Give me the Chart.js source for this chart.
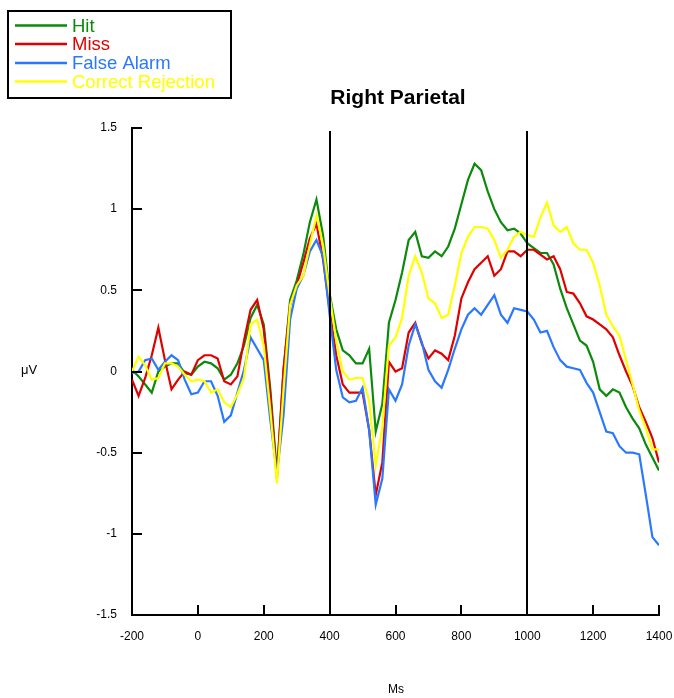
<!DOCTYPE html>
<html><head><meta charset="utf-8">
<script src="https://cdn.jsdelivr.net/npm/chart.js@4.4.1/dist/chart.umd.min.js"></script>
<style>html,body{margin:0;padding:0;background:#fff;}#wrap{width:674px;height:698px;}</style>
</head><body>
<div id="wrap"><canvas id="c" width="674" height="698"></canvas></div>
<script>
const timesMs = [-200,-180,-160,-140,-120,-100,-80,-60,-40,-20,0,20,40,60,80,100,120,140,160,180,200,220,240,260,280,300,320,340,360,380,400,420,440,460,480,500,520,540,560,580,600,620,640,660,680,700,720,740,760,780,800,820,840,860,880,900,920,940,960,980,1000,1020,1040,1060,1080,1100,1120,1140,1160,1180,1200,1220,1240,1260,1280,1300,1320,1340,1360,1380,1400];

const hit = [0.01,-0.03,-0.08,-0.13,0.0,0.03,0.05,0.05,-0.01,-0.02,0.03,0.06,0.05,0.02,-0.05,-0.02,0.05,0.16,0.33,0.41,0.29,-0.11,-0.63,0.01,0.44,0.56,0.72,0.92,1.06,0.84,0.48,0.26,0.13,0.10,0.05,0.05,0.14,-0.37,-0.20,0.30,0.44,0.61,0.81,0.86,0.71,0.70,0.74,0.71,0.77,0.88,1.03,1.18,1.28,1.24,1.11,1.00,0.92,0.87,0.88,0.85,0.79,0.76,0.73,0.73,0.66,0.51,0.39,0.29,0.19,0.16,0.06,-0.11,-0.15,-0.11,-0.13,-0.22,-0.29,-0.35,-0.45,-0.53,-0.61];

const miss = [-0.05,-0.15,-0.04,0.10,0.27,0.07,-0.11,-0.05,0.0,-0.02,0.07,0.10,0.10,0.08,-0.06,-0.08,-0.03,0.19,0.38,0.44,0.26,-0.14,-0.66,0.01,0.41,0.53,0.67,0.82,0.91,0.69,0.38,0.10,-0.08,-0.13,-0.13,-0.13,-0.36,-0.76,-0.56,0.06,0.0,0.02,0.24,0.30,0.17,0.08,0.13,0.11,0.07,0.22,0.45,0.55,0.63,0.67,0.71,0.59,0.63,0.74,0.74,0.71,0.75,0.75,0.72,0.69,0.71,0.63,0.49,0.48,0.42,0.34,0.32,0.29,0.26,0.21,0.10,0.0,-0.09,-0.22,-0.31,-0.41,-0.56];

const falseAlarm = [-0.01,0.0,0.07,0.08,0.01,0.06,0.10,0.07,-0.05,-0.14,-0.13,-0.06,-0.06,-0.15,-0.31,-0.27,-0.13,0.01,0.21,0.14,0.07,-0.30,-0.63,-0.27,0.32,0.51,0.59,0.74,0.81,0.71,0.35,0.01,-0.16,-0.19,-0.18,-0.10,-0.36,-0.82,-0.66,-0.11,-0.18,-0.08,0.16,0.29,0.18,0.01,-0.06,-0.10,0.01,0.14,0.26,0.35,0.39,0.35,0.41,0.47,0.35,0.30,0.39,0.38,0.37,0.32,0.24,0.25,0.15,0.07,0.03,0.02,0.01,-0.07,-0.13,-0.25,-0.37,-0.38,-0.46,-0.50,-0.50,-0.51,-0.76,-1.02,-1.07];

const correctRejection = [0.0,0.09,0.04,-0.05,-0.04,0.05,0.05,0.03,-0.02,-0.06,-0.05,-0.06,-0.13,-0.11,-0.19,-0.22,-0.14,-0.04,0.29,0.32,0.16,-0.24,-0.69,-0.11,0.41,0.53,0.59,0.78,0.96,0.78,0.47,0.19,0.0,-0.05,-0.04,-0.04,-0.18,-0.58,-0.34,0.16,0.21,0.33,0.59,0.71,0.61,0.45,0.42,0.33,0.35,0.53,0.73,0.83,0.89,0.89,0.88,0.81,0.70,0.75,0.83,0.86,0.84,0.83,0.95,1.04,0.90,0.86,0.89,0.79,0.75,0.75,0.67,0.53,0.35,0.28,0.22,0.07,-0.08,-0.24,-0.35,-0.48,-0.48];

const seriesNames = ["Hit","Miss","False Alarm","Correct Rejection"];
const seriesColors = ["#0b8a0b","#e00000","#2a78ff","#ffff00"];
const yTickValues = [-1.5,-1,-0.5,0,0.5,1,1.5];
const xTickValues = [-200,0,200,400,600,800,1000,1200,1400];
const markerLinesMs = [400,1000];
const titleText = "Right Parietal";
const yAxisTitle = "μV";
const xAxisTitle = "Ms";

const FONT = "'Liberation Sans', Arial, sans-serif";
const seriesData = [hit, miss, falseAlarm, correctRejection];

const decorPlugin = {
  id: 'decor',
  afterDatasetsDraw(chart) {
    const ctx = chart.ctx, xs = chart.scales.x, ys = chart.scales.y, a = chart.chartArea;
    ctx.save();
    ctx.strokeStyle = '#000'; ctx.lineWidth = 2;
    markerLinesMs.forEach(m => {
      const px = Math.round(xs.getPixelForValue(m));
      ctx.beginPath(); ctx.moveTo(px, a.top + 3); ctx.lineTo(px, a.bottom); ctx.stroke();
    });
    yTickValues.forEach(v => {
      const py = Math.round(ys.getPixelForValue(v));
      ctx.beginPath(); ctx.moveTo(a.left, py); ctx.lineTo(a.left + 10, py); ctx.stroke();
    });
    xTickValues.forEach(v => {
      const px = Math.round(xs.getPixelForValue(v));
      ctx.beginPath(); ctx.moveTo(px, a.bottom); ctx.lineTo(px, a.bottom - 10); ctx.stroke();
    });
    ctx.restore();
  },
  afterDraw(chart) {
    const ctx = chart.ctx, a = chart.chartArea;
    ctx.save();
    ctx.fillStyle = '#000';
    ctx.font = "bold 21px " + FONT;
    ctx.textAlign = 'center'; ctx.textBaseline = 'middle';
    ctx.fillText(titleText, 398, 98);
    ctx.font = "13px " + FONT;
    ctx.fillText(yAxisTitle, 29, 370);
    ctx.font = "12px " + FONT;
    ctx.fillText(xAxisTitle, 396, 690);
    ctx.strokeStyle = '#000'; ctx.lineWidth = 2;
    ctx.strokeRect(8, 11, 223, 87);
    const rows = [25.5, 44, 63, 81.5];
    ctx.font = "18.5px " + FONT;
    ctx.textAlign = 'left'; ctx.textBaseline = 'middle';
    seriesNames.forEach((n, i) => {
      ctx.strokeStyle = seriesColors[i]; ctx.lineWidth = 2.5;
      ctx.beginPath(); ctx.moveTo(15, rows[i]); ctx.lineTo(67, rows[i]); ctx.stroke();
      ctx.fillStyle = seriesColors[i];
      ctx.fillText(n, 72, rows[i] + 1);
    });
    ctx.restore();
  }
};

new Chart(document.getElementById('c'), {
  type: 'line',
  data: {
    datasets: seriesNames.map((n, i) => ({
      label: n,
      data: seriesData[i].map((v, j) => ({ x: timesMs[j], y: v })),
      borderColor: seriesColors[i],
      borderWidth: 2.2,
      pointRadius: 0,
      tension: 0,
      fill: false,
      order: 4 - i
    }))
  },
  options: {
    responsive: false,
    animation: false,
    events: [],
    layout: { padding: { left: 0, right: 15, top: 128, bottom: 0 } },
    plugins: { legend: { display: false }, title: { display: false }, tooltip: { enabled: false } },
    scales: {
      x: {
        type: 'linear', min: -200, max: 1400,
        afterBuildTicks: s => { s.ticks = xTickValues.map(v => ({ value: v })); },
        afterFit: s => { s.height = 83; s.paddingLeft = 0; s.paddingRight = 0; },
        grid: { display: false, drawTicks: false },
        border: { display: true, color: '#000', width: 2 },
        ticks: { color: '#000', font: { size: 12, family: FONT }, padding: 14, maxRotation: 0, autoSkip: false,
                 callback: v => String(v) }
      },
      y: {
        type: 'linear', min: -1.5, max: 1.5,
        afterBuildTicks: s => { s.ticks = yTickValues.map(v => ({ value: v })); },
        afterFit: s => { s.width = 132; s.paddingTop = 0; s.paddingBottom = 0; },
        grid: { display: false, drawTicks: false },
        border: { display: true, color: '#000', width: 2 },
        ticks: { color: '#000', font: { size: 12, family: FONT }, padding: 15, autoSkip: false,
                 callback: v => String(v) }
      }
    }
  },
  plugins: [decorPlugin]
});
</script>
</body></html>
